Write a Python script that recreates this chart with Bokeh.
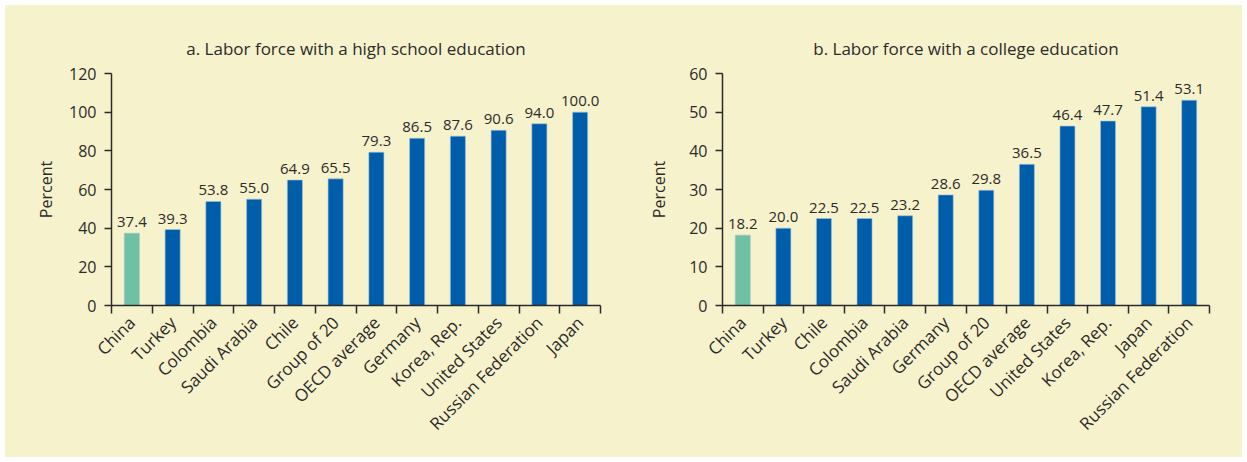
import math
from bokeh.plotting import figure
from bokeh.layouts import row, column
from bokeh.models import ColumnDataSource, FixedTicker, Range1d, LabelSet, Spacer
from bokeh.core.properties import value
from bokeh.embed import file_html
from bokeh.resources import INLINE

# ---- data ----
hs_countries = ["China", "Turkey", "Colombia", "Saudi Arabia", "Chile", "Group of 20",
                "OECD average", "Germany", "Korea, Rep.", "United States",
                "Russian Federation", "Japan"]
hs_values = [37.4, 39.3, 53.8, 55.0, 64.9, 65.5, 79.3, 86.5, 87.6, 90.6, 94.0, 100.0]

col_countries = ["China", "Turkey", "Chile", "Colombia", "Saudi Arabia", "Germany",
                 "Group of 20", "OECD average", "United States", "Korea, Rep.",
                 "Japan", "Russian Federation"]
col_values = [18.2, 20.0, 22.5, 22.5, 23.2, 28.6, 29.8, 36.5, 46.4, 47.7, 51.4, 53.1]

hs_yticks = [0, 20, 40, 60, 80, 100, 120]
col_yticks = [0, 10, 20, 30, 40, 50, 60]

BG = "#F6F2CB"
BLUE = "#005DAA"
GREEN = "#70C0A3"
INK = "#2b2b2b"
FONT = "Open Sans"


def panel(title, cats, vals, yticks, width, height, bl, br, bt, bb, lab_standoff, title_offset):
    n = len(cats)
    xs = [i + 0.5 for i in range(n)]
    colors = [GREEN if c == "China" else BLUE for c in cats]
    labels = [f"{v:.1f}" for v in vals]
    src = ColumnDataSource(dict(x=xs, top=vals, color=colors, label=labels, name=cats))
    p = figure(width=width, height=height, output_backend="svg", toolbar_location=None,
               x_range=Range1d(0, n), y_range=Range1d(yticks[0], yticks[-1]),
               min_border_left=bl, min_border_right=br, min_border_top=bt,
               min_border_bottom=bb)
    p.background_fill_color = BG
    p.border_fill_color = BG
    p.outline_line_color = None
    p.grid.visible = False

    p.vbar(x="x", top="top", bottom=0, width=0.37, source=src, fill_color="color",
           line_color="#9cc3e0", line_width=0.6)
    p.add_layout(LabelSet(x="x", y="top", text="label", source=src, text_align="center",
                          text_baseline="bottom", y_offset=6, text_font=value(FONT),
                          text_font_size=value("15px"), text_color=value(INK)))

    p.title.text = title
    p.title.align = "center"
    p.title.offset = title_offset
    p.title.standoff = 27
    p.title.text_font = FONT
    p.title.text_font_size = "17px"
    p.title.text_font_style = "normal"
    p.title.text_color = INK

    xa = p.xaxis[0]
    xa.ticker = FixedTicker(ticks=xs, minor_ticks=list(range(n + 1)))
    xa.major_label_overrides = {x: c for x, c in zip(xs, cats)}
    xa.major_tick_line_color = None
    xa.minor_tick_line_color = INK
    xa.minor_tick_out = 8
    xa.minor_tick_in = 0
    xa.minor_tick_line_width = 1.5
    xa.axis_line_color = INK
    xa.axis_line_width = 1.5
    xa.major_label_orientation = math.pi / 4
    xa.major_label_text_font = FONT
    xa.major_label_text_font_size = "17px"
    xa.major_label_text_color = INK
    xa.major_label_standoff = 6

    ya = p.yaxis[0]
    ya.ticker = FixedTicker(ticks=yticks)
    ya.major_tick_out = 7
    ya.major_tick_in = 0
    ya.minor_tick_line_color = None
    ya.major_tick_line_color = INK
    ya.major_tick_line_width = 1.5
    ya.axis_line_color = INK
    ya.axis_line_width = 1.5
    ya.major_label_text_font = FONT
    ya.major_label_text_font_size = "16px"
    ya.major_label_text_color = INK
    ya.major_label_standoff = 8
    ya.axis_label = "Percent"
    ya.axis_label_text_font = FONT
    ya.axis_label_text_font_size = "16px"
    ya.axis_label_text_font_style = "normal"
    ya.axis_label_text_color = INK
    ya.axis_label_standoff = lab_standoff
    return p


pa = panel("a. Labor force with a high school education", hs_countries, hs_values,
           hs_yticks, 615, 452, 106, 20, 68, 150, 9, 6)
pb = panel("b. Labor force with a college education", col_countries, col_values,
           col_yticks, 622, 452, 102, 33, 66, 152, 16, 0)

inner = row(pa, pb, spacing=0, styles={"background-color": BG})
layout = column(Spacer(height=5), row(Spacer(width=5), inner, spacing=0), spacing=0)
open("out.html", "w").write(file_html(layout, INLINE))
